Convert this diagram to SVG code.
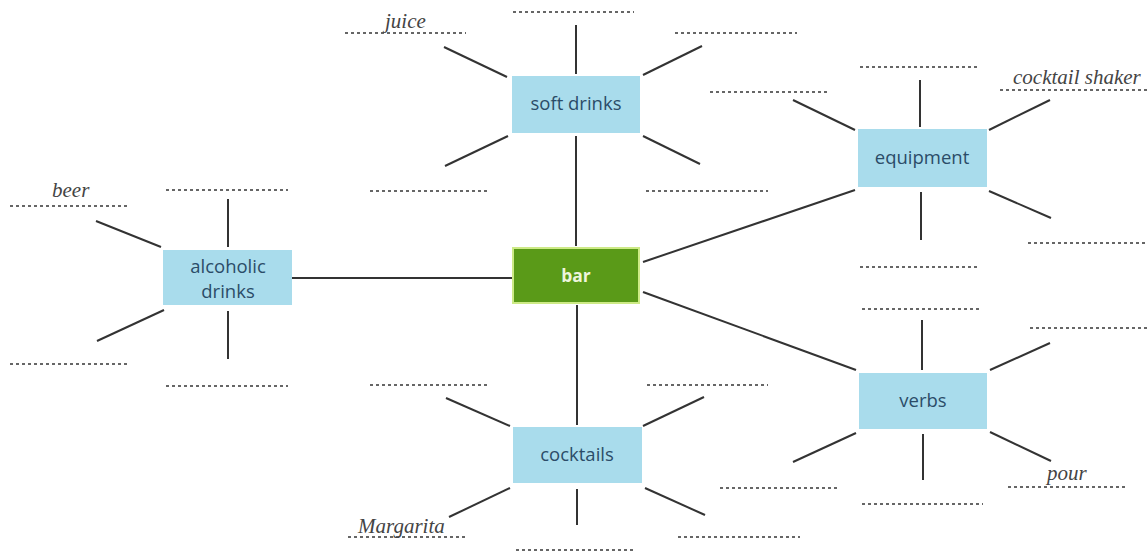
<svg xmlns="http://www.w3.org/2000/svg" width="1147" height="552" viewBox="0 0 1147 552">
<style>
.box{fill:#a9dcec}
.lbl{font-family:"Open Sans","Noto Sans",sans-serif;font-size:18.5px;fill:#2b4c68;text-anchor:middle}
.sp{stroke:#333;stroke-width:2;fill:none}
.dot{stroke:#666;stroke-width:1.8;stroke-dasharray:3 3;fill:none}
.it{font-family:"Liberation Serif",serif;font-style:italic;font-size:21px;fill:#444}
</style>
<rect width="1147" height="552" fill="#ffffff"/>
<g id="connectors">
<line class="sp" x1="292" y1="278" x2="512" y2="278"/>
<line class="sp" x1="576" y1="136" x2="576" y2="246"/>
<line class="sp" x1="577" y1="305" x2="577" y2="425"/>
<line class="sp" x1="643" y1="262" x2="855" y2="190"/>
<line class="sp" x1="643" y1="292" x2="856" y2="370"/>
</g>
<g id="soft-drinks">
<rect class="box" x="512" y="76" width="128" height="57"/>
<text class="lbl" x="576" y="110">soft drinks</text>
<line class="sp" x1="576" y1="25" x2="576" y2="74"/>
<line class="sp" x1="444" y1="47" x2="507" y2="77"/>
<line class="sp" x1="643" y1="75" x2="702" y2="46"/>
<line class="sp" x1="445" y1="166" x2="508" y2="136"/>
<line class="sp" x1="643" y1="136" x2="700" y2="164"/>
<line class="dot" x1="513" y1="12" x2="634" y2="12"/>
<line class="dot" x1="345" y1="33" x2="466" y2="33"/>
<line class="dot" x1="675" y1="33" x2="797" y2="33"/>
<line class="dot" x1="370" y1="191" x2="490" y2="191"/>
<line class="dot" x1="646" y1="191" x2="768" y2="191"/>
<text class="it" x="385" y="28">juice</text>
</g>
<g id="alcoholic-drinks">
<rect class="box" x="163" y="250" width="129" height="55"/>
<text class="lbl" x="228" y="273">alcoholic</text>
<text class="lbl" x="228" y="298">drinks</text>
<line class="sp" x1="228" y1="199" x2="228" y2="247"/>
<line class="sp" x1="96" y1="221" x2="161" y2="247"/>
<line class="sp" x1="97" y1="341" x2="164" y2="310"/>
<line class="sp" x1="228" y1="311" x2="228" y2="359"/>
<line class="dot" x1="166" y1="190" x2="288" y2="190"/>
<line class="dot" x1="10" y1="206" x2="130" y2="206"/>
<line class="dot" x1="10" y1="364" x2="130" y2="364"/>
<line class="dot" x1="166" y1="386" x2="288" y2="386"/>
<text class="it" x="52" y="197">beer</text>
</g>
<g id="bar">
<rect x="513" y="248" width="126" height="55" fill="#5a9a18" stroke="#cdea86" stroke-width="2"/>
<text x="576" y="282" font-family="Open Sans, Noto Sans, sans-serif" font-size="17.5" font-weight="bold" fill="#eef5dc" text-anchor="middle">bar</text>
</g>
<g id="cocktails">
<rect class="box" x="513" y="427" width="129" height="56"/>
<text class="lbl" x="577" y="461">cocktails</text>
<line class="sp" x1="446" y1="398" x2="510" y2="426"/>
<line class="sp" x1="643" y1="426" x2="704" y2="397"/>
<line class="sp" x1="449" y1="517" x2="510" y2="488"/>
<line class="sp" x1="645" y1="488" x2="705" y2="515"/>
<line class="sp" x1="577" y1="489" x2="577" y2="525"/>
<line class="dot" x1="370" y1="385" x2="490" y2="385"/>
<line class="dot" x1="647" y1="385" x2="768" y2="385"/>
<line class="dot" x1="348" y1="537" x2="468" y2="537"/>
<line class="dot" x1="678" y1="537" x2="800" y2="537"/>
<line class="dot" x1="516" y1="550" x2="636" y2="550"/>
<text class="it" x="358" y="533">Margarita</text>
</g>
<g id="equipment">
<rect class="box" x="858" y="129" width="129" height="58"/>
<text class="lbl" x="922" y="164">equipment</text>
<line class="sp" x1="920" y1="80" x2="920" y2="127"/>
<line class="sp" x1="793" y1="100" x2="855" y2="130"/>
<line class="sp" x1="989" y1="130" x2="1050" y2="100"/>
<line class="sp" x1="989" y1="191" x2="1051" y2="218"/>
<line class="sp" x1="921" y1="192" x2="921" y2="240"/>
<line class="dot" x1="860" y1="67" x2="980" y2="67"/>
<line class="dot" x1="710" y1="92" x2="830" y2="92"/>
<line class="dot" x1="1000" y1="90" x2="1147" y2="90"/>
<line class="dot" x1="1028" y1="243" x2="1147" y2="243"/>
<line class="dot" x1="860" y1="267" x2="980" y2="267"/>
<text class="it" x="1013" y="84">cocktail shaker</text>
</g>
<g id="verbs">
<rect class="box" x="859" y="373" width="128" height="56"/>
<text class="lbl" x="923" y="407">verbs</text>
<line class="sp" x1="922" y1="320" x2="922" y2="370"/>
<line class="sp" x1="990" y1="370" x2="1050" y2="343"/>
<line class="sp" x1="793" y1="462" x2="856" y2="433"/>
<line class="sp" x1="990" y1="432" x2="1051" y2="461"/>
<line class="sp" x1="923" y1="434" x2="923" y2="480"/>
<line class="dot" x1="862" y1="309" x2="982" y2="309"/>
<line class="dot" x1="1030" y1="328" x2="1147" y2="328"/>
<line class="dot" x1="720" y1="488" x2="840" y2="488"/>
<line class="dot" x1="1008" y1="487" x2="1128" y2="487"/>
<line class="dot" x1="862" y1="504" x2="983" y2="504"/>
<text class="it" x="1047" y="480">pour</text>
</g>
</svg>
